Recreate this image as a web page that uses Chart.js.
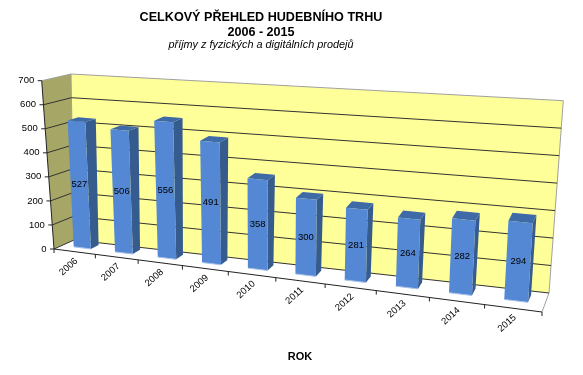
<!DOCTYPE html>
<html>
<head>
<meta charset="utf-8">
<style>
  html, body { margin: 0; padding: 0; background: #fff; }
  canvas { display: block; }
</style>
<script src="https://cdn.jsdelivr.net/npm/chart.js@4/dist/chart.umd.min.js"></script>
</head>
<body>
<canvas id="chart" width="583" height="375"></canvas>
<script>
const years = ['2006', '2007', '2008', '2009', '2010', '2011', '2012', '2013', '2014', '2015'];
const revenue = [527, 506, 556, 491, 358, 300, 281, 264, 282, 294];
const yTicks = [0, 100, 200, 300, 400, 500, 600, 700];
const titleLines = ['CELKOVÝ PŘEHLED HUDEBNÍHO TRHU', '2006 - 2015'];
const subtitleLine = 'příjmy z fyzických a digitálních prodejů';
const xAxisName = 'ROK';

// corners of the 3D box on screen
const box = {
    frontBottomLeft: [54, 249],
    frontBottomRight: [542, 312],
    backBottomLeft: [74, 240],
    backBottomRight: [549, 293],
    frontTopLeft: [41.7, 80.7],
    frontTopRight: [552, 125],
    backTopLeft: [71, 74],
    backTopRight: [563.3, 100.7],
};
const foreshorten = 1.2;
const barDepthFront = 0.4;
const barDepthBack = 0.8;

function mix(a, b, t) {
    return [a[0] + (b[0] - a[0]) * t, a[1] + (b[1] - a[1]) * t];
}

// u across, v up, d into the picture, all 0..1
function project(u, v, d) {
    const w = u / (u + foreshorten * (1 - u));
    const bottom = mix(mix(box.frontBottomLeft, box.frontBottomRight, w), mix(box.backBottomLeft, box.backBottomRight, w), d);
    const top = mix(mix(box.frontTopLeft, box.frontTopRight, w), mix(box.backTopLeft, box.backTopRight, w), d);
    return mix(bottom, top, v);
}

function poly(ctx, points, fill, stroke) {
    ctx.beginPath();
    points.forEach((p, i) => (i ? ctx.lineTo(p[0], p[1]) : ctx.moveTo(p[0], p[1])));
    ctx.closePath();
    if (fill) {
        ctx.fillStyle = fill;
        ctx.fill();
    }
    if (stroke) {
        ctx.strokeStyle = stroke;
        ctx.lineWidth = 1;
        ctx.stroke();
    }
}

function line(ctx, a, b, color, width = 1) {
    ctx.beginPath();
    ctx.moveTo(a[0], a[1]);
    ctx.lineTo(b[0], b[1]);
    ctx.strokeStyle = color;
    ctx.lineWidth = width;
    ctx.stroke();
}

const box3d = {
    id: 'box3d',
    beforeDatasetsDraw(chart) {
        const { ctx, scales } = chart;
        const yScale = scales.y;
        const xScale = scales.x;
        const vOf = (value) => (chart.chartArea.bottom - yScale.getPixelForValue(value)) / chart.chartArea.height;
        const uOf = (index) => (xScale.getPixelForValue(index) - chart.chartArea.left) / chart.chartArea.width;
        const halfStep = 0.5 / years.length;

        ctx.save();
        // floor, back wall, side wall
        poly(ctx, [project(0, 0, 0), project(1, 0, 0), project(1, 0, 1), project(0, 0, 1)], '#ffffff');
        poly(ctx, [project(0, 0, 1), project(1, 0, 1), project(1, 1, 1), project(0, 1, 1)], '#ffff99');
        poly(ctx, [project(0, 0, 0), project(0, 0, 1), project(0, 1, 1), project(0, 1, 0)], '#a6a667');

        const edge = '#a0a0a0';
        line(ctx, project(0, 1, 0), project(0, 1, 1), edge);
        line(ctx, project(0, 1, 1), project(1, 1, 1), edge);
        line(ctx, project(0, 1, 1), project(0, 0, 1), edge);
        line(ctx, project(1, 1, 1), project(1, 0, 1), edge);
        line(ctx, project(1, 0, 1), project(1, 0, 0), edge);

        yScale.ticks.forEach((tick) => {
            const v = vOf(tick.value);
            if (v < 1) {
                line(ctx, project(0, v, 0), project(0, v, 1), '#333333');
                line(ctx, project(0, v, 1), project(1, v, 1), '#333333');
            }
            // tick mark and label on the front corner
            const p = project(0, v, 0);
            line(ctx, p, [p[0] - 4, p[1]], '#222222');
            ctx.fillStyle = '#000000';
            ctx.font = '9.5px "Liberation Sans"';
            ctx.textAlign = 'right';
            ctx.textBaseline = 'middle';
            ctx.fillText(tick.label, p[0] - 7.5, p[1]);
        });

        // axes
        line(ctx, project(0, 0, 0), project(0, 1, 0), '#222222');
        line(ctx, project(0, 0, 0), project(1, 0, 0), '#222222');

        years.forEach((year, i) => {
            const u = uOf(i) + halfStep;
            const t = project(u, 0, 0);
            line(ctx, t, [t[0], t[1] + 4], '#222222');
            if (i === 0) {
                const s = project(0, 0, 0);
                line(ctx, s, [s[0], s[1] + 4], '#222222');
            }
            const c = project(uOf(i), 0, 0);
            ctx.save();
            ctx.translate(c[0] + 2, c[1] + 8);
            ctx.rotate(-42 * Math.PI / 180);
            ctx.fillStyle = '#000000';
            ctx.font = '9.5px "Liberation Sans"';
            ctx.textAlign = 'right';
            ctx.textBaseline = 'middle';
            ctx.fillText(year, 0, 0);
            ctx.restore();
        });

        ctx.fillStyle = '#000000';
        ctx.font = 'bold 11px "Liberation Sans"';
        ctx.textAlign = 'center';
        ctx.textBaseline = 'middle';
        ctx.fillText(xAxisName, 300, 357);

        // bars from the elements the bar controller laid out
        const meta = chart.getDatasetMeta(0);
        meta.data.forEach((bar, i) => {
            const area = chart.chartArea;
            const left = (bar.x - bar.width / 2 - area.left) / area.width;
            const right = (bar.x + bar.width / 2 - area.left) / area.width;
            const top = (area.bottom - bar.y) / area.height;
            const base = (area.bottom - bar.base) / area.height;
            const d0 = barDepthFront;
            const d1 = barDepthBack;

            poly(ctx, [project(right, base, d0), project(right, base, d1), project(right, top, d1), project(right, top, d0)], '#365c8f');
            poly(ctx, [project(left, top, d0), project(right, top, d0), project(right, top, d1), project(left, top, d1)], '#3f6aa8');
            poly(ctx, [project(left, base, d0), project(right, base, d0), project(right, top, d0), project(left, top, d0)], '#5488d4');
            line(ctx, project(left, base, d0), project(right, base, d0), '#a9c3ea');

            const c = project((left + right) / 2, (top + base) / 2, d0);
            ctx.fillStyle = '#000000';
            ctx.font = '9.5px "Liberation Sans"';
            ctx.textAlign = 'center';
            ctx.textBaseline = 'middle';
            ctx.fillText(String(revenue[i]), c[0], c[1]);
        });
        ctx.restore();
        return false;
    },
};

new Chart(document.getElementById('chart'), {
    type: 'bar',
    data: {
        labels: years,
        datasets: [{
            label: 'příjmy',
            data: revenue,
            backgroundColor: 'rgba(0, 0, 0, 0)',
            categoryPercentage: 1,
            barPercentage: 0.42,
        }],
    },
    options: {
        responsive: false,
        animation: false,
        layout: { padding: { top: 8, right: 61, left: 0, bottom: 0 } },
        plugins: {
            legend: { display: false },
            tooltip: { enabled: false },
            title: {
                display: true,
                text: titleLines,
                color: '#000000',
                font: { family: '"Liberation Sans"', size: 12.6, weight: 'bold', lineHeight: 1.2 },
                padding: { top: 1.5, bottom: 0 },
            },
            subtitle: {
                display: true,
                text: subtitleLine,
                color: '#000000',
                font: { family: '"Liberation Sans"', size: 10.85, style: 'italic', weight: 'normal', lineHeight: 1 },
                padding: { top: 0, bottom: 0 },
            },
        },
        scales: {
            x: { display: false },
            y: {
                display: false,
                min: yTicks[0],
                max: yTicks[yTicks.length - 1],
                afterBuildTicks: (scale) => {
                    scale.ticks = yTicks.map((value) => ({ value }));
                },
            },
        },
    },
    plugins: [box3d],
});
</script>
</body>
</html>
